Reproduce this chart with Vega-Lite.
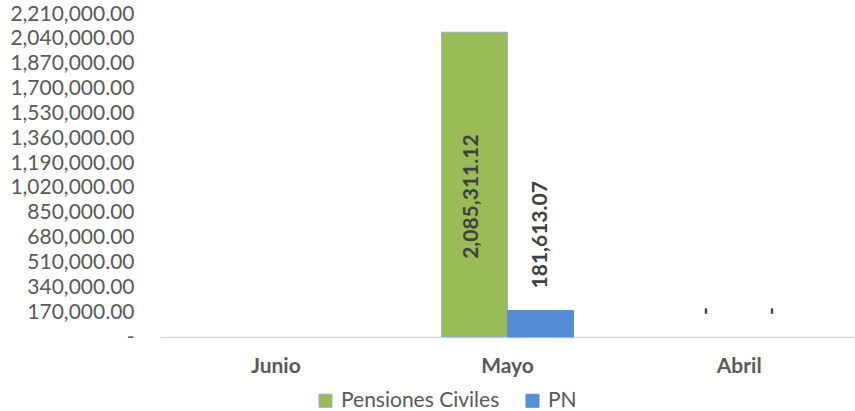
{
  "$schema": "https://vega.github.io/schema/vega-lite/v6.json",
  "width": 695,
  "height": 323,
  "autosize": {"type": "none"},
  "padding": {"left": 160, "top": 14, "right": 0, "bottom": 74},
  "background": "white",
  "config": {
    "view": {"stroke": null},
    "font": "Lato",
    "axisY": {
      "labelOverlap": false,
      "tickCount": 20,
      "labelFont": "Lato",
      "labelFontSize": 21,
      "labelColor": "#595959",
      "labelPadding": 26,
      "grid": false,
      "domain": false,
      "ticks": false,
      "title": null
    }
  },
  "data": {
    "values": [
      {"mes": "Junio", "serie": "Pensiones Civiles", "valor": null},
      {"mes": "Junio", "serie": "PN", "valor": null},
      {"mes": "Mayo", "serie": "Pensiones Civiles", "valor": 2085311.12},
      {"mes": "Mayo", "serie": "PN", "valor": 181613.07},
      {"mes": "Abril", "serie": "Pensiones Civiles", "valor": 0},
      {"mes": "Abril", "serie": "PN", "valor": 0}
    ]
  },
  "transform": [
    {"calculate": "datum.valor == null ? null : (datum.valor == 0 ? '-' : format(datum.valor, ',.2f'))", "as": "etiqueta"},
    {"calculate": "datum.valor / 2", "as": "medio"}
  ],
  "encoding": {
    "x": {
      "field": "mes",
      "type": "nominal",
      "sort": ["Junio", "Mayo", "Abril"],
      "scale": {"paddingInner": 0.43, "paddingOuter": 0.215},
      "axis": {
        "title": null,
        "labelAngle": 0,
        "labelFont": "Lato",
        "labelFontSize": 21,
        "labelFontWeight": "bold",
        "labelColor": "#595959",
        "labelPadding": 18,
        "domainColor": "#d9d9d9",
        "domainWidth": 1.5,
        "ticks": false
      }
    },
    "xOffset": {"field": "serie", "type": "nominal", "sort": ["Pensiones Civiles", "PN"]}
  },
  "layer": [
    {
      "mark": {"type": "bar", "strokeWidth": 1},
      "encoding": {
        "y": {
          "field": "valor",
          "type": "quantitative",
          "scale": {"domain": [0, 2210000], "nice": false},
          "axis": {
            "title": null,
            "values": [0, 170000, 340000, 510000, 680000, 850000, 1020000, 1190000, 1360000, 1530000, 1700000, 1870000, 2040000, 2210000],
            "tickCount": 20,
            "labelExpr": "datum.value == 0 ? '-' : format(datum.value, ',.2f')",
            "labelOverlap": false
          }
        },
        "color": {
          "field": "serie",
          "type": "nominal",
          "scale": {"domain": ["Pensiones Civiles", "PN"], "range": ["#9BBB59", "#558ED5"]},
          "legend": {
            "title": null,
            "orient": "none",
            "legendX": 155,
            "legendY": 376,
            "direction": "horizontal",
            "symbolType": "square",
            "symbolSize": 170,
            "symbolStrokeWidth": 1,
            "labelFont": "Lato",
            "labelFontSize": 21,
            "labelColor": "#595959",
            "labelOffset": 5,
            "columnPadding": 22
          }
        },
        "stroke": {
          "field": "serie",
          "type": "nominal",
          "scale": {"domain": ["Pensiones Civiles", "PN"], "range": ["#95B3D7", "#558ED5"]},
          "legend": null
        },
        "strokeOpacity": {
          "condition": {"test": "datum.valor > 0", "value": 1},
          "value": 0
        }
      }
    },
    {
      "transform": [{"filter": "datum.serie == 'Pensiones Civiles' && datum.valor > 0"}],
      "mark": {"type": "text", "angle": 270, "align": "center", "baseline": "middle", "font": "Lato", "fontSize": 21, "fontWeight": "bold", "color": "#404040", "dx": -12, "dy": -2},
      "encoding": {
        "y": {"field": "medio", "type": "quantitative"},
        "text": {"field": "etiqueta"}
      }
    },
    {
      "transform": [{"filter": "datum.valor != null && !(datum.serie == 'Pensiones Civiles' && datum.valor > 0)"}],
      "mark": {"type": "text", "angle": 270, "align": "left", "baseline": "middle", "font": "Lato", "fontSize": 21, "fontWeight": "bold", "color": "#404040", "dx": 22},
      "encoding": {
        "y": {"field": "valor", "type": "quantitative"},
        "text": {"field": "etiqueta"}
      }
    }
  ]
}
